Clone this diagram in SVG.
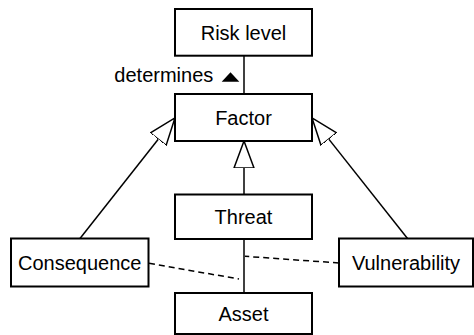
<svg xmlns="http://www.w3.org/2000/svg" width="474" height="335" viewBox="0 0 474 335">
<style>
.box{fill:#fff;stroke:#000;stroke-width:2}
.lbl{font-family:"Liberation Sans",Arial,sans-serif;font-size:20px;fill:#000;text-anchor:middle}
.ln{stroke:#000;stroke-width:1.5;fill:none}
.dash{stroke:#000;stroke-width:1.5;fill:none;stroke-dasharray:6,4}
</style>
<defs>
<marker id="gen" markerUnits="userSpaceOnUse" markerWidth="28" markerHeight="22" viewBox="0 -1 28 22" refX="0" refY="10" orient="auto">
<path d="M0,0 L27,10 L0,20 Z" fill="#fff" stroke="#000" stroke-width="1.5"/>
</marker>
</defs>
<rect width="474" height="335" fill="#fff"/>
<g id="connectors">
<line class="ln" x1="244" y1="55.7" x2="244" y2="94"/>
<line class="ln" x1="244" y1="194.5" x2="244" y2="168" marker-end="url(#gen)"/>
<line class="ln" x1="80" y1="238.5" x2="158.24" y2="139.17" marker-end="url(#gen)"/>
<line class="ln" x1="407.5" y1="238.5" x2="328.81" y2="139.13" marker-end="url(#gen)"/>
<line class="ln" x1="244" y1="239" x2="244" y2="293"/>
<line class="dash" x1="149" y1="263.3" x2="239" y2="279"/>
<line class="dash" x1="339" y1="263" x2="245" y2="256.3"/>
<text class="lbl" x="213.3" y="81.7" style="text-anchor:end">determines</text>
<polygon points="221.7,81.7 239.3,81.7 230.5,72.3" fill="#000"/>
</g>
<g id="risk-level">
<rect class="box" x="175" y="9" width="137" height="46.7"/>
<text class="lbl" x="243.5" y="39.5">Risk level</text>
</g>
<g id="factor">
<rect class="box" x="175" y="94" width="137" height="47"/>
<text class="lbl" x="243.5" y="124.5">Factor</text>
</g>
<g id="threat">
<rect class="box" x="175" y="194.5" width="137" height="44.5"/>
<text class="lbl" x="243.5" y="224.3">Threat</text>
</g>
<g id="asset">
<rect class="box" x="175" y="293" width="137" height="41"/>
<text class="lbl" x="243.5" y="320.7">Asset</text>
</g>
<g id="consequence">
<rect class="box" x="11" y="238.5" width="137.5" height="48"/>
<text class="lbl" x="79.7" y="270">Consequence</text>
</g>
<g id="vulnerability">
<rect class="box" x="339" y="238.5" width="134" height="48"/>
<text class="lbl" x="406" y="270">Vulnerability</text>
</g>
</svg>
